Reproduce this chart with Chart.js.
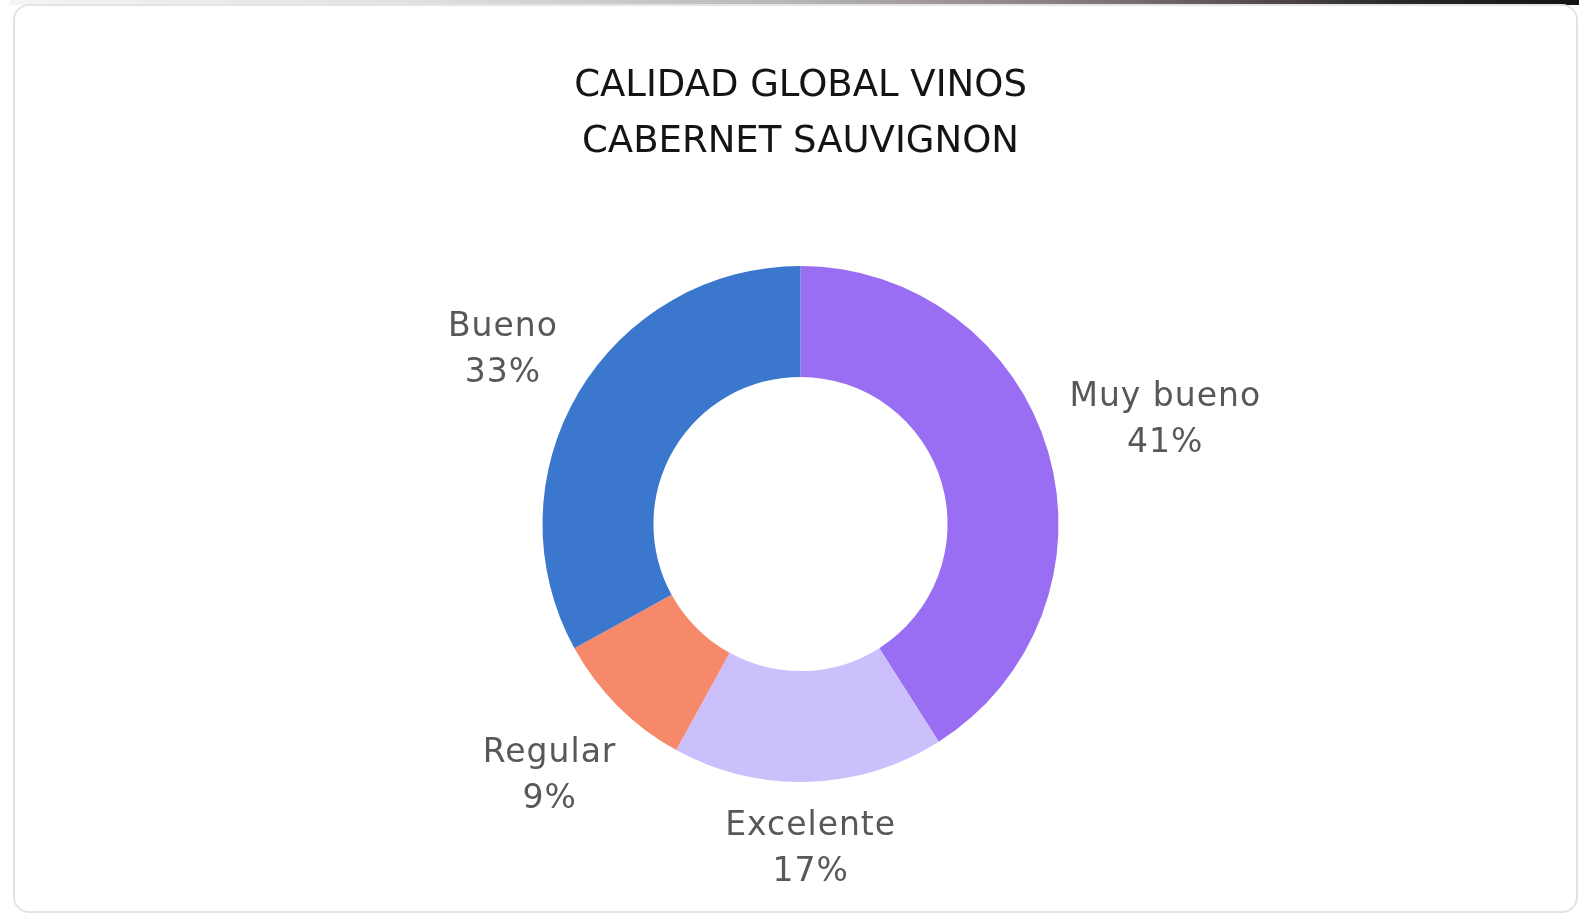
<!DOCTYPE html>
<html>
<head>
<meta charset="utf-8">
<script src="https://cdn.jsdelivr.net/npm/chart.js@4/dist/chart.umd.min.js"></script>
<style>
  html, body { margin: 0; padding: 0; background: #fff; }
  body { width: 1579px; height: 913px; position: relative; overflow: hidden; }
  #strip {
    position: absolute; left: 10px; top: 0; width: 1569px; height: 5px;
    background: linear-gradient(to right, #f4f4f4 0%, #e2e2e2 25%, #b9b6b4 50%, #7d7573 70%, #2e2a2a 88%, #141212 100%);
  }
  #card {
    position: absolute; left: 13px; top: 4px; width: 1561px; height: 905px;
    border: 2px solid #e3e3e3; border-radius: 16px; background: #fff;
  }
  #wrap { position: absolute; left: 0; top: 0; width: 1579px; height: 913px; }
</style>
</head>
<body>
<div id="strip"></div>
<div id="card"></div>
<div id="wrap"><canvas id="chart"></canvas></div>
<script>
// Chart data
var titleLines = ['CALIDAD GLOBAL VINOS', 'CABERNET SAUVIGNON'];
var categories = ['Muy bueno', 'Excelente', 'Regular', 'Bueno'];
var values = [41, 17, 9, 33];
var colors = ['#9a6ef2', '#cbbffc', '#f7896b', '#3b78cd'];

var labelFont = '33px "DejaVu Sans"';
var labelLineHeight = 46;
var labelGap = 17;

/**
 * Draws "category / percent" labels outside each slice,
 * along the slice's middle angle.
 */
var outsideLabels = {
  id: 'outsideLabels',
  afterDatasetsDraw: function (chart) {
    var ctx = chart.ctx;
    var meta = chart.getDatasetMeta(0);
    var data = chart.data.datasets[0].data;
    var total = data.reduce(function (a, b) { return a + b; }, 0);

    ctx.save();
    ctx.font = labelFont;
    ctx.letterSpacing = '1px';
    ctx.fillStyle = '#585858';
    ctx.textAlign = 'center';
    ctx.textBaseline = 'middle';

    meta.data.forEach(function (arc, i) {
      var lines = [
        chart.data.labels[i],
        Math.round(data[i] / total * 100) + '%'
      ];
      var w = Math.max.apply(null, lines.map(function (t) { return ctx.measureText(t).width; }));
      var h = lines.length * labelLineHeight;
      var mid = (arc.startAngle + arc.endAngle) / 2;
      var cos = Math.cos(mid);
      var sin = Math.sin(mid);
      var dist = arc.outerRadius + labelGap + Math.abs(cos) * w / 2 + Math.abs(sin) * h / 2;
      var cx = arc.x + cos * dist;
      var cy = arc.y + sin * dist;

      lines.forEach(function (t, j) {
        ctx.fillText(t, cx, cy - h / 2 + labelLineHeight * (j + 0.5) + 2);
      });
    });

    ctx.restore();
  }
};

new Chart(document.getElementById('chart'), {
  type: 'doughnut',
  data: {
    labels: categories,
    datasets: [{
      data: values,
      backgroundColor: colors,
      borderWidth: 0
    }]
  },
  options: {
    responsive: true,
    maintainAspectRatio: false,
    animation: false,
    cutout: '57%',
    layout: {
      padding: { top: 0, bottom: 131, left: 22, right: 0 }
    },
    plugins: {
      legend: { display: false },
      tooltip: { enabled: false },
      title: {
        display: true,
        text: titleLines,
        color: '#141414',
        font: { family: '"DejaVu Sans"', size: 37, weight: 'normal', lineHeight: 1.5 },
        padding: { top: 59, bottom: 96 }
      }
    }
  },
  plugins: [outsideLabels]
});
</script>
</body>
</html>
